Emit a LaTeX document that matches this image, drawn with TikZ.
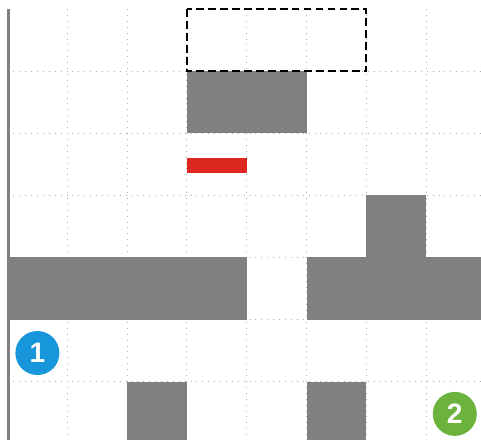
\documentclass[tikz,border=0pt]{standalone}
\usepackage{fontspec}
\setsansfont{Liberation Sans}
\definecolor{wallgray}{HTML}{808080}
\definecolor{gridgray}{HTML}{AFAFAF}
\definecolor{markred}{HTML}{DC2820}
\definecolor{startblue}{HTML}{1796DC}
\definecolor{goalgreen}{HTML}{6BB33C}
\begin{document}
\begin{tikzpicture}[x=2.99cm,y=-3.105cm,
  gridline/.style={gridgray,line width=1.4pt,dash pattern=on 1.4pt off 7pt},
  wall/.style={fill=wallgray},
  marker/.style={circle,minimum size=2.2cm,inner sep=0pt,text=white,
    font=\sffamily\bfseries\fontsize{40}{40}\selectfont}]
  \useasboundingbox (-0.1254,-0.1449) rectangle (7.918,6.940);

  % grid
  \draw[gridline] (1,0) -- (1,6.94);
  \draw[gridline] (2,0) -- (2,6.94);
  \draw[gridline] (3,0) -- (3,6.94);
  \draw[gridline] (4,0) -- (4,6.94);
  \draw[gridline] (5,0) -- (5,6.94);
  \draw[gridline] (6,0) -- (6,6.94);
  \draw[gridline] (7,0) -- (7,6.94);
  \draw[gridline] (0,1) -- (7.918,1);
  \draw[gridline] (0,2) -- (7.918,2);
  \draw[gridline] (0,3) -- (7.918,3);
  \draw[gridline] (0,4) -- (7.918,4);
  \draw[gridline] (0,5) -- (7.918,5);
  \draw[gridline] (0,6) -- (7.918,6);

  % walls
  \fill[wall] (-0.008,0) rectangle (0.042,6.94);
  \fill[wall] (3,1) rectangle (5,2);
  \fill[wall] (6,3) rectangle (7,4);
  \fill[wall] (0,4) rectangle (4,5);
  \fill[wall] (5,4) rectangle (7.918,5);
  \fill[wall] (2,6) rectangle (3,6.94);
  \fill[wall] (5,6) rectangle (6,6.94);

  % target area and red bar
  \draw[black,line width=3.2pt,dash pattern=on 11pt off 6pt] (3,0) rectangle (6,1);
  \fill[markred] (3,2.394) rectangle (4,2.636);

  \node[marker,fill=startblue] (start) at (0.5,5.54) {1};
  \node[marker,fill=goalgreen] (goal) at (7.48,6.52) {2};
\end{tikzpicture}
\end{document}
